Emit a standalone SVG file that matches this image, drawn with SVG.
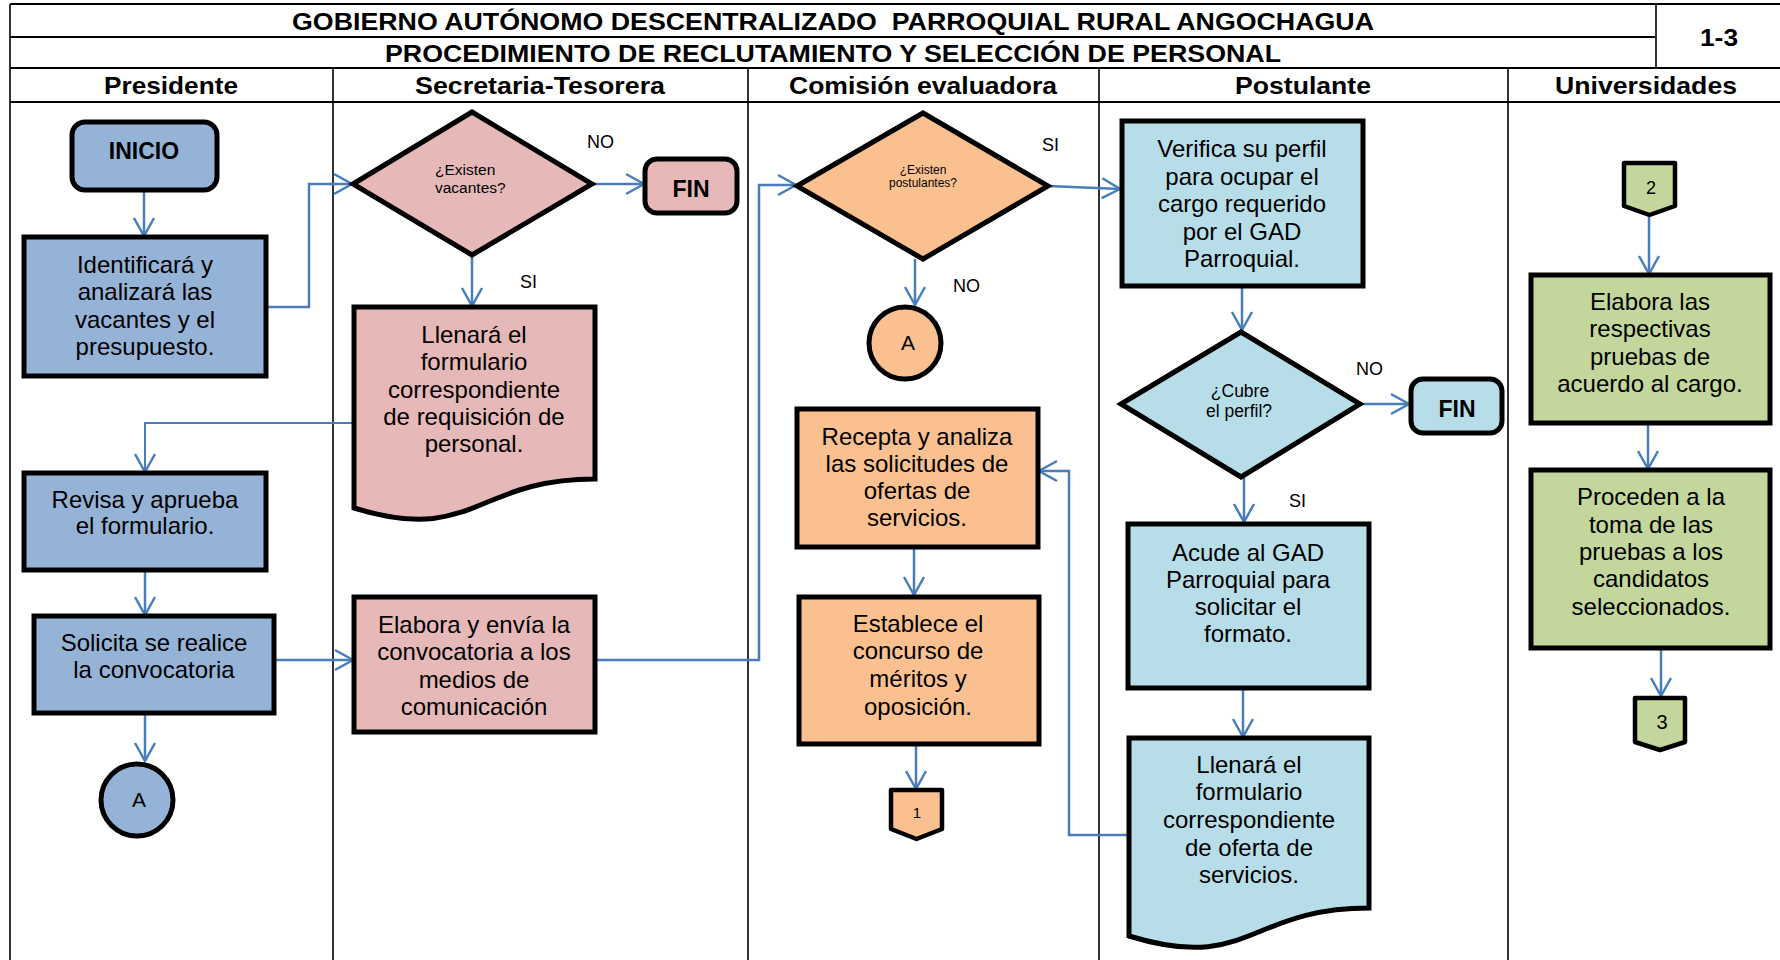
<svg xmlns="http://www.w3.org/2000/svg" width="1780" height="960" viewBox="0 0 1780 960">
  <defs>
    <marker id="arr" markerUnits="userSpaceOnUse" markerWidth="26" markerHeight="26" viewBox="-22 -13 26 26" refX="0" refY="0" orient="auto" overflow="visible">
      <path d="M-18,-10 L0,0 L-18,10" fill="none" stroke="#4A7EBB" stroke-width="2.5"/>
    </marker>
    <style>
      .grid { stroke:#000; stroke-width:2; fill:none }
      .lane { stroke:#000; stroke-width:1.6; fill:none }
      .hdr { font-family:"Liberation Sans", Arial, sans-serif; font-weight:bold; font-size:24px; fill:#000; text-anchor:middle }
      .box { stroke:#000; stroke-width:5 }
      .conn { stroke:#000; stroke-width:4.5; stroke-linejoin:round }
      .t { font-family:"Liberation Sans", Arial, sans-serif; font-size:24px; fill:#000; text-anchor:middle }
      .tb { font-family:"Liberation Sans", Arial, sans-serif; font-size:23px; font-weight:bold; fill:#000; text-anchor:middle }
      .lbl { font-family:"Liberation Sans", Arial, sans-serif; font-size:18px; fill:#000 }
      .pres { fill:#95B3D7 }
      .sec { fill:#E6B9B8 }
      .com { fill:#FAC090 }
      .pos { fill:#B7DEE8 }
      .uni { fill:#C3D69B }
      .c { fill:none; stroke:#4A7EBB; stroke-width:2.5; marker-end:url(#arr) }
    </style>
  </defs>

  <rect x="0" y="0" width="1780" height="960" fill="#fff"/>

  <!-- Table frame and swimlanes -->
  <g id="table">
    <line class="grid" x1="10" y1="4" x2="1780" y2="4"/>
    <line class="grid" x1="10" y1="37" x2="1655" y2="37"/>
    <line class="grid" x1="10" y1="68" x2="1780" y2="68"/>
    <line class="grid" x1="10" y1="102" x2="1780" y2="102"/>
    <line class="lane" x1="10" y1="4" x2="10" y2="960"/>
    <line class="lane" x1="1656" y1="4" x2="1656" y2="68"/>
    <line class="lane" x1="333" y1="68" x2="333" y2="960"/>
    <line class="lane" x1="748" y1="68" x2="748" y2="960"/>
    <line class="lane" x1="1099" y1="68" x2="1099" y2="960"/>
    <line class="lane" x1="1508" y1="68" x2="1508" y2="960"/>
    <text class="hdr" x="833" y="30" textLength="1082" lengthAdjust="spacingAndGlyphs" xml:space="preserve">GOBIERNO AUTÓNOMO DESCENTRALIZADO  PARROQUIAL RURAL ANGOCHAGUA</text>
    <text class="hdr" x="833" y="62" textLength="896" lengthAdjust="spacingAndGlyphs">PROCEDIMIENTO DE RECLUTAMIENTO Y SELECCIÓN DE PERSONAL</text>
    <text class="hdr" x="1719" y="46" textLength="38" lengthAdjust="spacingAndGlyphs">1-3</text>
    <text class="hdr" x="171" y="94" textLength="134" lengthAdjust="spacingAndGlyphs">Presidente</text>
    <text class="hdr" x="540" y="94" textLength="250" lengthAdjust="spacingAndGlyphs">Secretaria-Tesorera</text>
    <text class="hdr" x="923" y="94" textLength="268" lengthAdjust="spacingAndGlyphs">Comisión evaluadora</text>
    <text class="hdr" x="1303" y="94" textLength="136" lengthAdjust="spacingAndGlyphs">Postulante</text>
    <text class="hdr" x="1646" y="94" textLength="182" lengthAdjust="spacingAndGlyphs">Universidades</text>
  </g>

  <!-- Connectors -->
  <g id="connectors">
    <path class="c" d="M144,190 V236"/>
    <path class="c" d="M266,307 H309 V184 H352"/>
    <path class="c" d="M592,184 H644"/>
    <path class="c" d="M472,255 V306"/>
    <path class="c" d="M354,423 H145 V472" style="stroke-width:2"/>
    <path class="c" d="M145,570 V615"/>
    <path class="c" d="M145,713 V761"/>
    <path class="c" d="M274,660 H353"/>
    <path class="c" d="M595,660 H759 V185 H796"/>
    <path class="c" d="M1048,186 L1120,189"/>
    <path class="c" d="M915,259 V305"/>
    <path class="c" d="M914,547 V595"/>
    <path class="c" d="M916,744 V789"/>
    <path class="c" d="M1242,286 V330"/>
    <path class="c" d="M1361,404 H1409"/>
    <path class="c" d="M1244,477 V522"/>
    <path class="c" d="M1243,688 V737"/>
    <path class="c" d="M1129,835 H1069 V471 H1039"/>
    <path class="c" d="M1649,215 V274"/>
    <path class="c" d="M1648,423 V469"/>
    <path class="c" d="M1661,648 V696"/>
    <text class="lbl" x="587" y="148">NO</text>
    <text class="lbl" x="520" y="288">SI</text>
    <text class="lbl" x="1042" y="151">SI</text>
    <text class="lbl" x="953" y="292">NO</text>
    <text class="lbl" x="1356" y="375">NO</text>
    <text class="lbl" x="1289" y="507">SI</text>
  </g>

  <!-- Presidente -->
  <g id="inicio">
    <rect class="box pres" x="72" y="122" width="145" height="68" rx="13"/>
    <text class="tb" x="144" y="159">INICIO</text>
  </g>
  <g id="identificar">
    <rect class="box pres" x="24" y="237" width="242" height="139"/>
    <text class="t"><tspan x="145" y="273">Identificará y</tspan><tspan x="145" y="300">analizará las</tspan><tspan x="145" y="328">vacantes y el</tspan><tspan x="145" y="355">presupuesto.</tspan></text>
  </g>
  <g id="revisa">
    <rect class="box pres" x="24" y="473" width="242" height="97"/>
    <text class="t"><tspan x="145" y="508">Revisa y aprueba</tspan><tspan x="145" y="534">el formulario.</tspan></text>
  </g>
  <g id="solicita">
    <rect class="box pres" x="34" y="616" width="240" height="97"/>
    <text class="t"><tspan x="154" y="651">Solicita se realice</tspan><tspan x="154" y="678">la convocatoria</tspan></text>
  </g>
  <g id="conector-a-presidente">
    <circle class="box pres" cx="137" cy="800" r="36"/>
    <text class="t" x="139" y="807" style="font-size:21px">A</text>
  </g>

  <!-- Secretaria-Tesorera -->
  <g id="existen-vacantes">
    <polygon class="box sec" points="353,184 472,112 592,184 472,255"/>
    <text class="t" style="font-size:15.5px;text-anchor:start"><tspan x="435" y="175">¿Existen</tspan><tspan x="435" y="193">vacantes?</tspan></text>
  </g>
  <g id="fin-secretaria">
    <rect class="box sec" x="645" y="159" width="92" height="54" rx="12"/>
    <text class="tb" x="691" y="197">FIN</text>
  </g>
  <g id="requisicion">
    <path class="box sec" d="M354,307 H595 V479 C474.5,479 474.5,545 354,508 Z"/>
    <text class="t"><tspan x="474" y="343">Llenará el</tspan><tspan x="474" y="370">formulario</tspan><tspan x="474" y="398">correspondiente</tspan><tspan x="474" y="425">de requisición de</tspan><tspan x="474" y="452">personal.</tspan></text>
  </g>
  <g id="convocatoria">
    <rect class="box sec" x="354" y="597" width="241" height="135"/>
    <text class="t"><tspan x="474" y="633">Elabora y envía la</tspan><tspan x="474" y="660">convocatoria a los</tspan><tspan x="474" y="688">medios de</tspan><tspan x="474" y="715">comunicación</tspan></text>
  </g>

  <!-- Comisión evaluadora -->
  <g id="existen-postulantes">
    <polygon class="box com" points="797,186 923,113 1048,186 923,259"/>
    <text class="t" style="font-size:12px"><tspan x="923" y="174">¿Existen</tspan><tspan x="923" y="187">postulantes?</tspan></text>
  </g>
  <g id="conector-a-comision">
    <circle class="box com" cx="905" cy="343" r="36"/>
    <text class="t" x="908" y="350" style="font-size:21px">A</text>
  </g>
  <g id="recepta">
    <rect class="box com" x="797" y="409" width="241" height="138"/>
    <text class="t"><tspan x="917" y="445">Recepta y analiza</tspan><tspan x="917" y="472">las solicitudes de</tspan><tspan x="917" y="499">ofertas de</tspan><tspan x="917" y="526">servicios.</tspan></text>
  </g>
  <g id="establece">
    <rect class="box com" x="799" y="597" width="240" height="147"/>
    <text class="t"><tspan x="918" y="632">Establece el</tspan><tspan x="918" y="659">concurso de</tspan><tspan x="918" y="687">méritos y</tspan><tspan x="918" y="715">oposición.</tspan></text>
  </g>
  <g id="pagina-1">
    <path class="conn com" d="M891,790 H942 V829 L916.5,839 L891,829 Z"/>
    <text class="t" x="917" y="818" style="font-size:15px">1</text>
  </g>

  <!-- Postulante -->
  <g id="verifica">
    <rect class="box pos" x="1122" y="121" width="241" height="165"/>
    <text class="t"><tspan x="1242" y="157">Verifica su perfil</tspan><tspan x="1242" y="185">para ocupar el</tspan><tspan x="1242" y="212">cargo requerido</tspan><tspan x="1242" y="240">por el GAD</tspan><tspan x="1242" y="267">Parroquial.</tspan></text>
  </g>
  <g id="cubre-perfil">
    <polygon class="box pos" points="1121,404 1241,332 1360,404 1241,477"/>
    <text class="t" style="font-size:17.5px"><tspan x="1240" y="397">¿Cubre</tspan><tspan x="1239" y="417">el perfil?</tspan></text>
  </g>
  <g id="fin-postulante">
    <rect class="box pos" x="1411" y="379" width="91" height="54" rx="12"/>
    <text class="tb" x="1457" y="417">FIN</text>
  </g>
  <g id="acude">
    <rect class="box pos" x="1128" y="524" width="241" height="164"/>
    <text class="t"><tspan x="1248" y="561">Acude al GAD</tspan><tspan x="1248" y="588">Parroquial para</tspan><tspan x="1248" y="615">solicitar el</tspan><tspan x="1248" y="642">formato.</tspan></text>
  </g>
  <g id="oferta">
    <path class="box pos" d="M1129,738 H1369 V908 C1249,908 1249,973 1129,936 Z"/>
    <text class="t"><tspan x="1249" y="773">Llenará el</tspan><tspan x="1249" y="800">formulario</tspan><tspan x="1249" y="828">correspondiente</tspan><tspan x="1249" y="856">de oferta de</tspan><tspan x="1249" y="883">servicios.</tspan></text>
  </g>

  <!-- Universidades -->
  <g id="pagina-2">
    <path class="conn uni" d="M1624,163 H1675 V206 L1649.5,215 L1624,206 Z"/>
    <text class="t" x="1651" y="194" style="font-size:18px">2</text>
  </g>
  <g id="elabora-pruebas">
    <rect class="box uni" x="1531" y="275" width="239" height="148"/>
    <text class="t"><tspan x="1650" y="310">Elabora las</tspan><tspan x="1650" y="337">respectivas</tspan><tspan x="1650" y="365">pruebas de</tspan><tspan x="1650" y="392">acuerdo al cargo.</tspan></text>
  </g>
  <g id="proceden">
    <rect class="box uni" x="1531" y="470" width="239" height="178"/>
    <text class="t"><tspan x="1651" y="505">Proceden a la</tspan><tspan x="1651" y="533">toma de las</tspan><tspan x="1651" y="560">pruebas a los</tspan><tspan x="1651" y="587">candidatos</tspan><tspan x="1651" y="615">seleccionados.</tspan></text>
  </g>
  <g id="pagina-3">
    <path class="conn uni" d="M1635,698 H1685 V742 L1660,750 L1635,742 Z"/>
    <text class="t" x="1662" y="729" style="font-size:20px">3</text>
  </g>
</svg>
